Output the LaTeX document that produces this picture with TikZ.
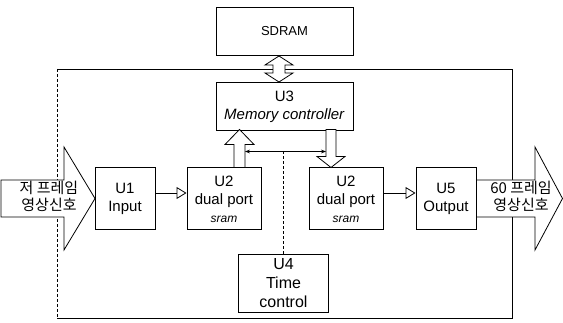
\documentclass[tikz,border=0pt]{standalone}
\usepackage{fontspec}
\setmainfont{Liberation Sans}
\newfontfamily\krfont{Noto Sans CJK KR}
\usetikzlibrary{arrows.meta,positioning}
\tikzset{
  blk/.style={draw,rectangle,line width=1pt,fill=white,align=center,inner sep=0pt,font=\fontsize{15}{18}\selectfont},
  unitblk/.style={blk,minimum width=60pt,minimum height=62pt},
  portblk/.style={blk,minimum width=74pt,minimum height=62pt},
  memblk/.style={blk,minimum width=137pt,minimum height=48pt},
  timeblk/.style={blk,minimum width=90pt,minimum height=58pt,font=\fontsize{16}{19}\selectfont},
  arr/.style={-{Triangle[open,length=10pt,width=12pt]},line width=0.8pt},
  darr/.style={{Stealth[length=5pt]}-{Stealth[length=5pt]},line width=0.8pt},
  hollow/.style={draw,fill=white,line width=0.8pt},
  bigarr/.style={draw,fill=white,line width=0.8pt},
  loopline/.style={line width=0.9pt},
  ctl/.style={line width=0.8pt,densely dashed},
  sigtxt/.style={font=\krfont\fontsize{15}{17}\selectfont,align=center,inner sep=0pt}
}
\newcommand{\sramtxt}{{\fontsize{12}{14}\selectfont\itshape sram}}

\begin{document}
\begin{tikzpicture}[x=1pt,y=-1pt,node distance=31pt]
  \useasboundingbox (0,0) rectangle (563,323);

  \coordinate (lpnw) at (57,69);
  \coordinate (lpne) at (512,69);
  \coordinate (lpse) at (512,318);
  \coordinate (lpsw) at (57,318);
  \draw[loopline] (lpsw) -- (lpse) -- (lpne) -- (lpnw);
  \draw[loopline,densely dashed] (lpnw) -- (lpsw);

  \draw[bigarr] (1,180) -- (64,180) -- (64,147) -- (95,198.5) -- (64,250) -- (64,217) -- (1,217) -- cycle;
  \node[sigtxt] (insig) at (49,196) {저 프레임\\영상신호};
  \draw[bigarr] (472,180) -- (535,180) -- (535,147) -- (562.5,198.5) -- (535,250) -- (535,217) -- (472,217) -- cycle;
  \node[sigtxt] (outsig) at (521,196) {60 프레임\\영상신호};

  \node[unitblk] (u1) at (125,199) {U1\\Input};
  \node[portblk, right=31pt of u1] (u2a) {U2\\dual port\\\sramtxt};
  \node[portblk, right=47pt of u2a] (u2b) {U2\\dual port\\\sramtxt};
  \node[unitblk, right=32pt of u2b] (u5) {U5\\Output};
  \node[memblk] (u3) at (284.5,106.5) {U3\\\textit{Memory controller}};
  \node[memblk, above=26pt of u3, font=\fontsize{13}{16}\selectfont] (sdram) {SDRAM};
  \node[timeblk] (u4) at (283.5,283.5) {U4\\Time\\control};

  \draw[arr] ([yshift=6pt]u1.east) -- ([yshift=6pt]u2a.west);
  \draw[arr] ([yshift=6pt]u2b.east) -- ([yshift=6pt]u5.west);
  \draw[hollow] ([xshift=-5.5pt]sdram.south) -- ++(14,9) -- ++(-8,0) -- ++(0,8) -- ++(8,0) -- ++(-14,9)
    -- ++(-14,-9) -- ++(8,0) -- ++(0,-8) -- ++(-8,0) -- cycle;
  \draw[hollow] ([xshift=10pt]u2a.north) -- ++(0,-23) -- ++(-9,0) -- ++(14.5,-15) -- ++(14.5,15) -- ++(-9,0) -- ++(0,23) -- cycle;
  \draw[hollow] ([xshift=-15pt]u2b.north) -- ++(-14,-11) -- ++(9,0) -- ++(0,-27) -- ++(10,0) -- ++(0,27) -- ++(9,0) -- cycle;
  \coordinate (busl) at ([xshift=21pt,yshift=16pt]u2a.north);
  \coordinate (busr) at ([xshift=-20pt,yshift=16pt]u2b.north);
  \draw[darr] (busl) -- (busr);
  \draw[ctl] (u4.north) -- (u4.north|-busl);
\end{tikzpicture}
\end{document}
